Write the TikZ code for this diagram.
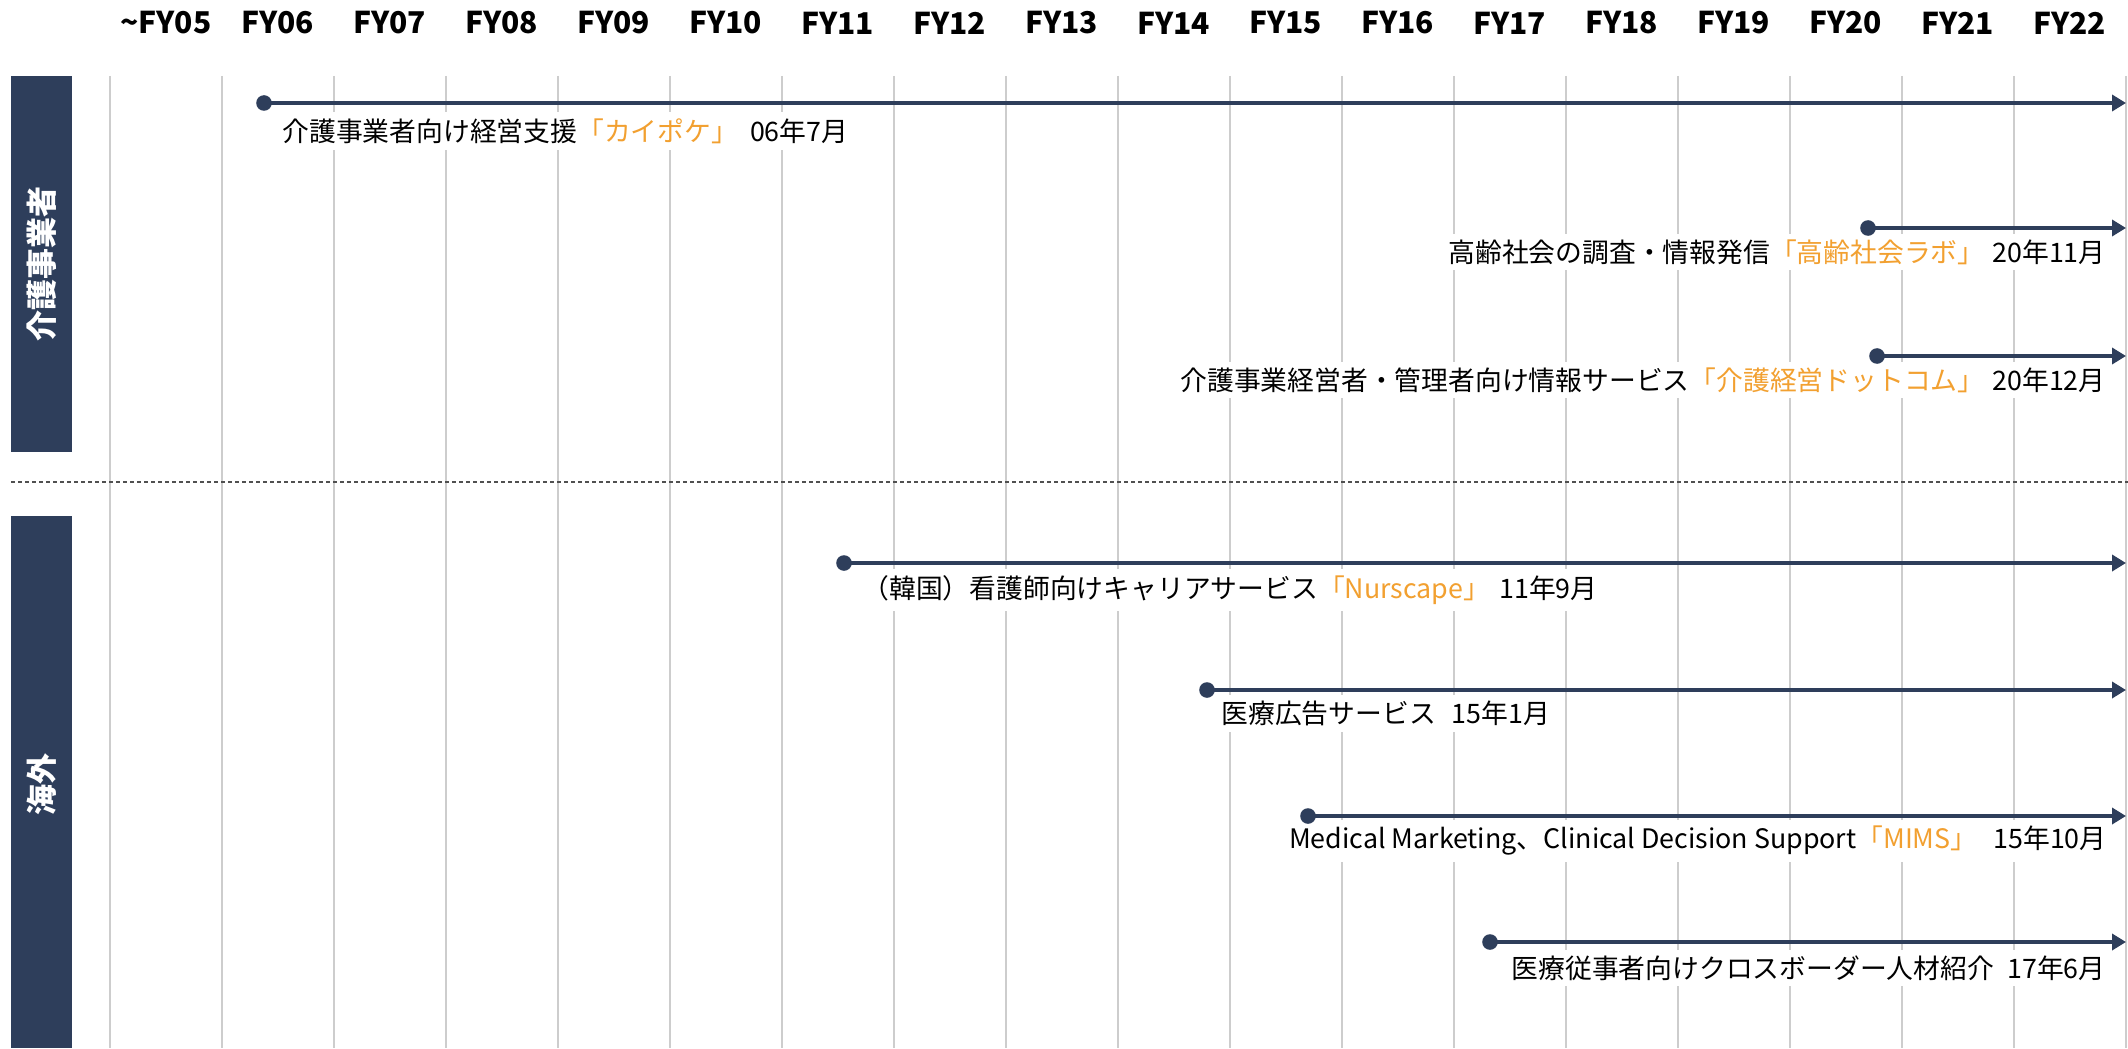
\documentclass[tikz,border=0pt]{standalone}
\usepackage{fontspec}
\setmainfont{Noto Sans CJK JP}
\usepackage{tikz}
\usetikzlibrary{arrows.meta}
\usepackage{xcolor}
\definecolor{navy}{RGB}{46,62,91}
\definecolor{amber}{RGB}{242,160,48}
\definecolor{rulegray}{RGB}{205,205,205}
\definecolor{sepgray}{RGB}{80,80,80}
\newcommand{\brand}[1]{{\color{amber}#1}}

\begin{document}
\begin{tikzpicture}[x=0.5pt,y=-0.5pt,line cap=butt,
  gridline/.style={rulegray,line width=0.8pt},
  hdr/.style={font=\fontsize{15}{17}\selectfont\bfseries},
  bandtext/.style={rotate=90,text=white,font=\fontsize{15.5}{17}\selectfont\bfseries},
  tl/.style={navy,line width=2pt,-{Triangle[length=7pt,width=8pt]}},
  lbl/.style={fill=white,inner xsep=1pt,inner ysep=3pt,font=\fontsize{13.4}{15}\selectfont}]
  \useasboundingbox (0,0) rectangle (2128,1048);
  % year columns
  \foreach \k in {0,...,18} \draw[gridline] (110+112*\k,76) -- (110+112*\k,1048);
  \foreach \yr [count=\k from 0] in {\textasciitilde FY05,FY06,FY07,FY08,FY09,FY10,FY11,FY12,FY13,FY14,FY15,FY16,FY17,FY18,FY19,FY20,FY21,FY22}
    \node[hdr] (fy\k) at (166+112*\k,23) {\yr};
  % section bands
  \fill[navy] (11,76) rectangle (72,452);
  \node[bandtext] (care) at (41.5,264) {介護事業者};
  \draw[sepgray,line width=0.7pt,dash pattern=on 2pt off 1.5pt] (11,482) -- (2128,482);
  \fill[navy] (11,516) rectangle (72,1048);
  \node[bandtext] (abroad) at (41.5,784) {海外};
  % care services
  \node[lbl,anchor=west] (t1) at (280,131) {介護事業者向け経営支援\brand{「カイポケ」}\hspace{0.45em}06年7月};
  \node[lbl,anchor=east] (t2) at (2108,252) {高齢社会の調査・情報発信\brand{「高齢社会ラボ」}\hspace{0.3em}20年11月};
  \node[lbl,anchor=east] (t3) at (2108,380) {介護事業経営者・管理者向け情報サービス\brand{「介護経営ドットコム」}\hspace{0.3em}20年12月};
  % overseas
  \node[lbl,anchor=west] (t4) at (860,590) {（韓国）看護師向けキャリアサービス\brand{「Nurscape」}\hspace{0.35em}11年9月};
  \node[lbl,anchor=west] (t5) at (1219,713) {医療広告サービス\hspace{0.6em}15年1月};
  \node[lbl,anchor=east] (t6) at (2109,841) {Medical Marketing、Clinical Decision Support\brand{「MIMS」}\hspace{0.6em}15年10月};
  \node[lbl,anchor=east] (t7) at (2108,968) {医療従事者向けクロスボーダー人材紹介\hspace{0.5em}17年6月};
  % timelines
  \foreach \n/\sx/\y in {1/264/103,2/1868/228,3/1877/356,4/844/563,5/1207/690,6/1308/816,7/1490/942}{
    \coordinate (s\n) at (\sx,\y); \coordinate (e\n) at (2126,\y);
    \draw[tl] (s\n) -- (e\n);
    \fill[navy] (s\n) circle (3.9pt);}
\end{tikzpicture}
\end{document}
